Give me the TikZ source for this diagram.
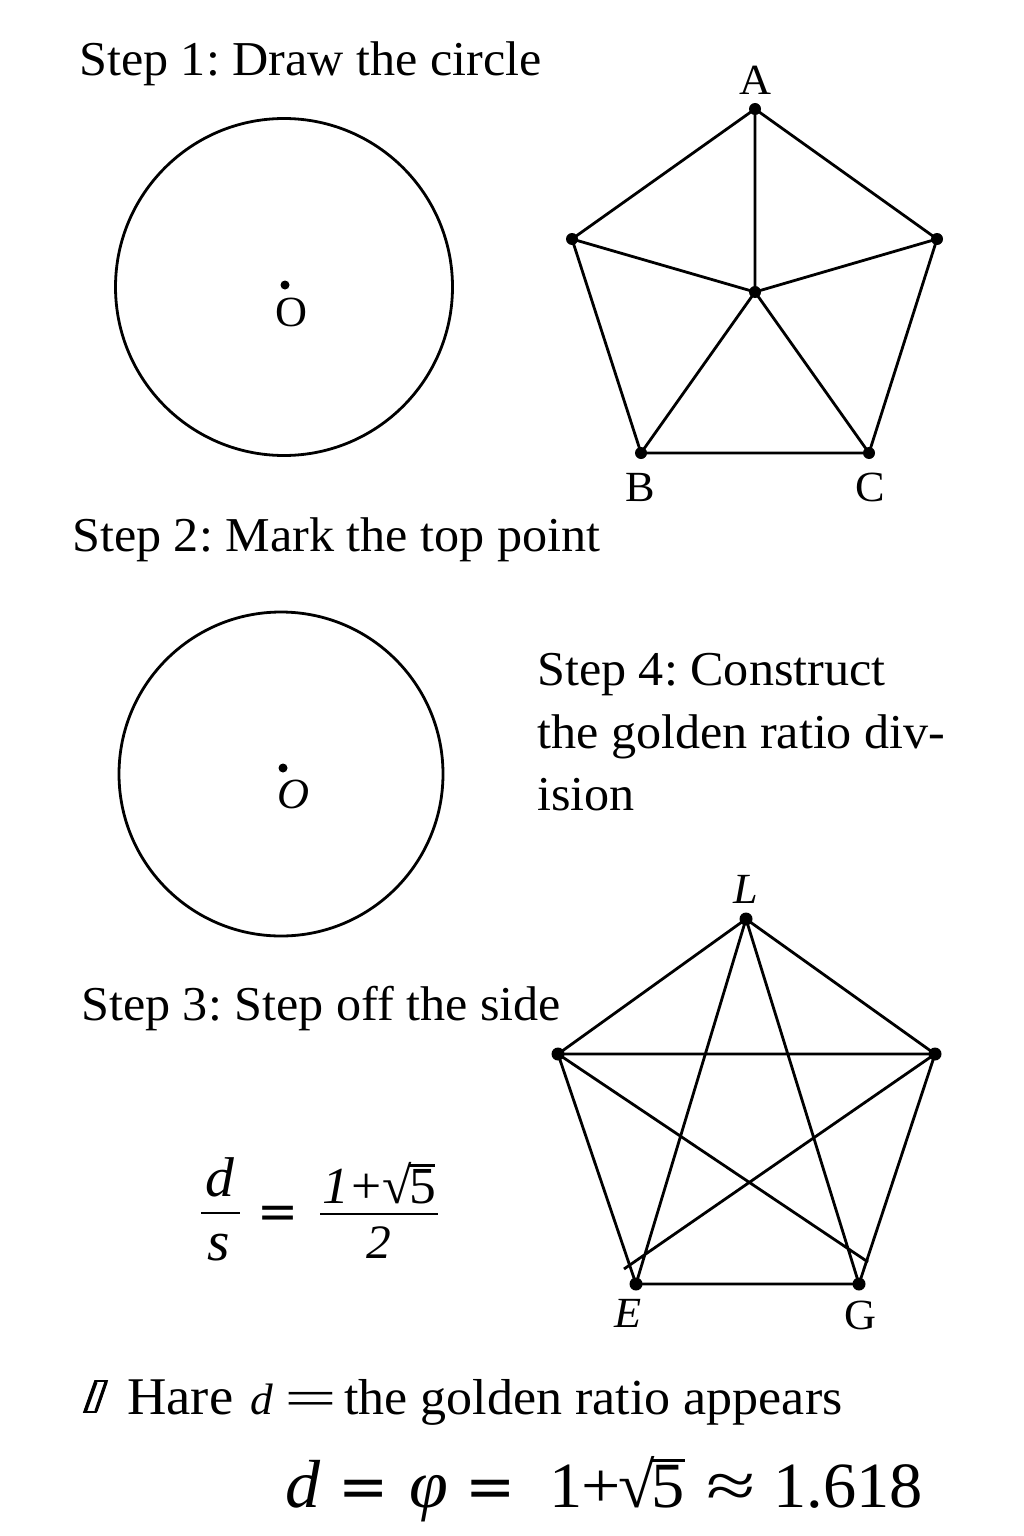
\documentclass[tikz,border=0pt]{standalone}
\usepackage{fontspec}
\usepackage{graphicx}
\setmainfont[FakeStretch=1.03]{Liberation Serif}
\newfontfamily\eqfont{DejaVu Sans}
\newcommand{\myroot}[3]{√\kern-0.06em\rlap{\rule[#1]{#2}{#3}}5}
\frenchspacing
\tikzset{x=1pt,y=-1pt,
 ln/.style={line width=2.8pt,black},
 thinln/.style={line width=2.4pt,black},
 dot/.style={circle,fill=black,inner sep=0pt,minimum size=12pt},
 head/.style={anchor=base west,inner sep=0pt,font=\fontsize{48.7}{48.7}\selectfont},
 note/.style={anchor=base west,inner sep=0pt,font=\fontsize{50.5}{50.5}\selectfont},
 lab/.style={anchor=base,inner sep=0pt,font=\fontsize{43}{43}\selectfont},
 labi/.style={anchor=base,inner sep=0pt,font=\fontsize{43}{43}\selectfont\itshape},
 frm/.style={anchor=base,inner sep=0pt,font=\fontsize{56}{56}\selectfont\itshape},
 frs/.style={anchor=base,inner sep=0pt,font=\fontsize{52}{52}\selectfont},
 big/.style={anchor=base west,inner sep=0pt,font=\fontsize{64.5}{64.5}\selectfont},
 bigi/.style={anchor=base west,inner sep=0pt,font=\fontsize{68}{68}\selectfont\itshape}}
\begin{document}
\begin{tikzpicture}
\useasboundingbox (0,0) rectangle (1024,1536);
\fill[white] (0,0) rectangle (1024,1536);
% headings
\node[head] (s1) at (79,76) {Step 1: Draw the circle};
\node[head] (s2) at (72,551) {Step 2: Mark the top point};
\node[head] (s4a) at (537,685) {Step 4: Construct};
\node[head] (s4b) at (537,748) {the golden ratio div-};
\node[head] (s4c) at (537,810) {ision};
\node[head] (s3) at (81,1020) {Step 3: Step off the side};
% circle 1
\node[draw,ln,circle,minimum size=337pt,inner sep=0pt] (c1) at (284,287) {};
\node[dot,minimum size=9pt] (o1) at (285,285) {};
\node[lab] (o1l) at (291,326) {O};
% circle 2
\node[draw,ln,circle,minimum size=324pt,inner sep=0pt] (c2) at (281,774) {};
\node[dot,minimum size=9pt] (o2) at (283,768) {};
\node[labi] (o2l) at (293,808) {O};
% pentagon 1
\node[dot] (A) at (755,109) {};
\node[dot] (Pr) at (937,239) {};
\node[dot] (C) at (869,453) {};
\node[dot] (B) at (641,453) {};
\node[dot] (Pl) at (572,239) {};
\node[dot] (Pc) at (755,292) {};
\draw[ln] (A.center) -- (Pr.center) -- (C.center) -- (B.center) -- (Pl.center) -- (A.center);
\draw[ln] (Pc.center) -- (A.center) (Pc.center) -- (Pr.center) (Pc.center) -- (C.center) (Pc.center) -- (B.center) (Pc.center) -- (Pl.center);
\node[lab] (Al) at (755,95) {A};
\node[lab] (Bl) at (640,501) {B};
\node[lab] (Cl) at (870,501) {C};
% pentagon 2
\node[dot,minimum size=13pt] (L) at (746,919) {};
\node[dot,minimum size=13pt] (Qr) at (935,1054) {};
\node[dot,minimum size=13pt] (G) at (859,1284) {};
\node[dot,minimum size=13pt] (E) at (636,1284) {};
\node[dot,minimum size=13pt] (Ql) at (558,1054) {};
\coordinate (e1) at (868,1262);
\coordinate (e2) at (624,1269);
\draw[ln] (L.center) -- (Qr.center) -- (G.center) -- (E.center) -- (Ql.center) -- (L.center);
\draw[ln] (Ql.center) -- (Qr.center) (L.center) -- (E.center) (L.center) -- (G.center) (Ql.center) -- (e1) (Qr.center) -- (e2);
\node[labi] (Ll) at (746,903) {L};
\node[labi] (El) at (628,1327) {E};
\node[lab] (Gl) at (860,1329) {G};
% ratio
\node[frm] (fd) at (220,1196) {d};
\node[frm] (fs) at (219,1260) {s};
\draw[thinln] (201,1213) -- (240,1213);
\node[anchor=base,inner sep=0pt,font=\fontsize{49}{49}\eqfont] (feq) at (278,1228) {=};
\node[frs] (fn) at (379,1203) {\textit{1}\kern0.04em+\kern0.03em\myroot{0.7em}{0.5em}{0.05em}};
\node[frs,font=\fontsize{48}{48}\selectfont\itshape] (f2) at (379,1258) {2};
\draw[thinln] (320,1214) -- (438,1214);
% note
\draw[line width=1.6pt,line join=miter] (84,1412) -- (95,1381) -- (107,1381) -- (96,1412) -- cycle;
\draw[line width=3.2pt] (85.5,1411) -- (96,1382) (96,1411) -- (106,1382);
\node[note,font=\fontsize{53}{53}\selectfont] (n1) at (127,1414) {Hare};
\node[note,font=\fontsize{44}{44}\selectfont\itshape] (n2) at (250,1414) {d};
\node[note] (n3) at (284,1415) {\scalebox{1.8}[1]{=}};
\node[note] (n4) at (344,1414) {the golden ratio appears};
% bottom
\node[bigi] (b1) at (285,1507) {d};
\node[anchor=base west,inner sep=0pt,font=\fontsize{60}{60}\eqfont] (b2) at (338,1507) {=};
\node[bigi] (b3) at (409,1507) {φ};
\node[anchor=base west,inner sep=0pt,font=\fontsize{60}{60}\eqfont] (b4) at (465,1507) {=};
\node[big] (b5) at (549,1507) {1\kern-0.02em\scalebox{1.05}[1]{+}\kern-0.03em\myroot{0.7em}{0.52em}{0.05em}};
\node[big] (b6) at (706,1507) {\scalebox{1.35}[1]{≈}};
\node[big] (b7) at (773,1507) {1.618};
\end{tikzpicture}
\end{document}
